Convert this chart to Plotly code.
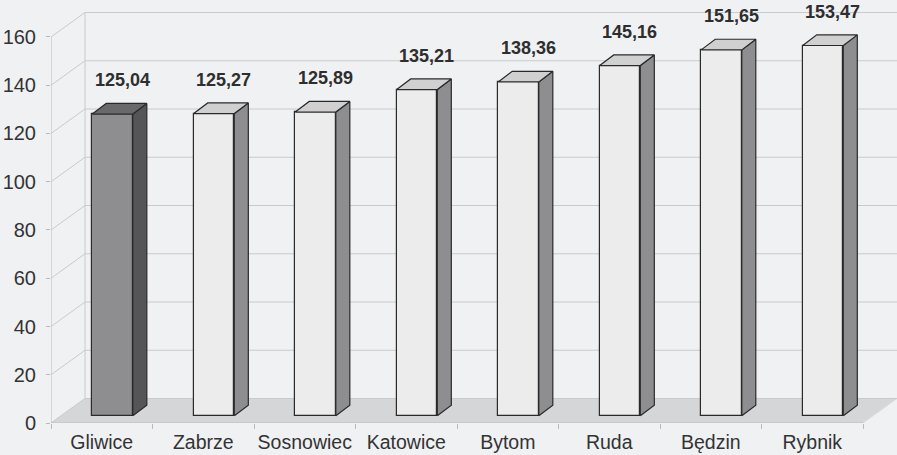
import plotly.graph_objects as go

# ---- data ----
categories = ["Gliwice", "Zabrze", "Sosnowiec", "Katowice", "Bytom", "Ruda", "Będzin", "Rybnik"]
values = [125.04, 125.27, 125.89, 135.21, 138.36, 145.16, 151.65, 153.47]
highlight = ["Gliwice"]
y_ticks = [0, 20, 40, 60, 80, 100, 120, 140, 160]

# ---- style / geometry (in axis units) ----
BG = "#f0f1f3"
GRID = "#c9cacc"
FLOOR = "#d5d6d8"
TEXT = "#2e2e2e"
FONT = "Liberation Sans, Arial, sans-serif"
DX, DY = 0.335, 10.15          # depth of the chart box
BAR_OFF = 0.106                # front-face centre offset from category centre
BAR_W = 0.40
BASE = 3.0                     # bar base sits slightly behind the floor front edge
BDX, BDY = 0.138, 4.4          # bar depth
YMAX_AX = 174.5
X0 = -0.5
X1 = len(categories) - 0.5

fig = go.Figure()
shapes = []

# floor
floor_path = f"M {X0} 0 L {X1} 0 L {X1+DX} {DY} L {X0+DX} {DY} Z"
shapes.append(dict(type="path", path=floor_path, xref="x", yref="y", layer="below",
                   fillcolor=FLOOR, line=dict(color="#dcdcde", width=1)))
# gridlines: diagonal on the left wall + horizontal on back wall
for v in y_ticks:
    shapes.append(dict(type="path", xref="x", yref="y", layer="below",
                       path=f"M {X0} {v} L {X0+DX} {v+DY} L {X1+DX} {v+DY}",
                       line=dict(color=GRID, width=1)))
# back wall left edge
shapes.append(dict(type="line", xref="x", yref="y", layer="below",
                   x0=X0+DX, y0=DY, x1=X0+DX, y1=y_ticks[-1]+DY,
                   line=dict(color=GRID, width=1)))
# front y axis line
shapes.append(dict(type="line", xref="x", yref="y", layer="below",
                   x0=X0, y0=0, x1=X0, y1=y_ticks[-1],
                   line=dict(color="#b8b9bb", width=1)))
# front x axis line
shapes.append(dict(type="line", xref="x", yref="y", layer="below",
                   x0=X0, y0=0, x1=X1, y1=0,
                   line=dict(color="#b8b9bb", width=1)))

front_cols, side_cols, top_cols = [], [], []
for c in categories:
    if c in highlight:
        front_cols.append("#8e8e90"); side_cols.append("#555557"); top_cols.append("#69696b")
    else:
        front_cols.append("#ececec"); side_cols.append("#8e8e90"); top_cols.append("#d0d0d1")

xs = [i + BAR_OFF for i in range(len(categories))]
fig.add_trace(go.Bar(x=xs, y=values, base=BASE, width=BAR_W,
                     marker=dict(color=front_cols, line=dict(color="#2a2a2a", width=1.2)),
                     hoverinfo="skip", showlegend=False))

for i, v in enumerate(values):
    xl = xs[i] - BAR_W / 2
    xr = xs[i] + BAR_W / 2
    top = BASE + v
    # side face
    fig.add_trace(go.Scatter(
        x=[xr, xr, xr + BDX, xr + BDX, xr], y=[BASE, top, top + BDY, BASE + BDY, BASE],
        mode="lines", fill="toself", fillcolor=side_cols[i],
        line=dict(color="#2a2a2a", width=1.2), hoverinfo="skip", showlegend=False))
    # top face
    fig.add_trace(go.Scatter(
        x=[xl, xr, xr + BDX, xl + BDX, xl], y=[top, top, top + BDY, top + BDY, top],
        mode="lines", fill="toself", fillcolor=top_cols[i],
        line=dict(color="#2a2a2a", width=1.2), hoverinfo="skip", showlegend=False))

annotations = []
for i, v in enumerate(values):
    annotations.append(dict(x=i + 0.2, y=v + 17, xref="x", yref="y",
                            text=f"<b>{v:.2f}</b>".replace(".", ","), showarrow=False,
                            font=dict(family=FONT, size=18, color=TEXT)))

fig.update_layout(
    width=897, height=455,
    margin=dict(l=51, r=0, t=2, b=32),
    paper_bgcolor=BG, plot_bgcolor=BG,
    shapes=shapes, annotations=annotations,
    bargap=0, showlegend=False,
    font=dict(family=FONT, size=18, color=TEXT),
    xaxis=dict(range=[X0, X1 + DX], showgrid=False, zeroline=False, showline=False,
               tickmode="array", tickvals=list(range(len(categories))), ticktext=categories,
               ticks="", ticklabelstandoff=5, tickfont=dict(size=19.5, color="#333333"),
               minor=dict(tickmode="array", tickvals=[i - 0.5 for i in range(len(categories) + 1)],
                          ticks="outside", ticklen=5, tickcolor="#b8b9bb", showgrid=False),
               fixedrange=True),
    yaxis=dict(range=[0, YMAX_AX], showgrid=False, zeroline=False, showline=False,
               tickmode="array", tickvals=y_ticks, ticks="outside", ticklen=4,
               tickcolor="#b8b9bb", ticklabelstandoff=6, tickfont=dict(size=20, color="#333333"),
               fixedrange=True),
)

fig.write_html("out.html", config={"displayModeBar": False},
               post_script="document.body.style.margin='0';document.body.style.background='#f0f1f3';document.body.style.overflow='hidden';")
